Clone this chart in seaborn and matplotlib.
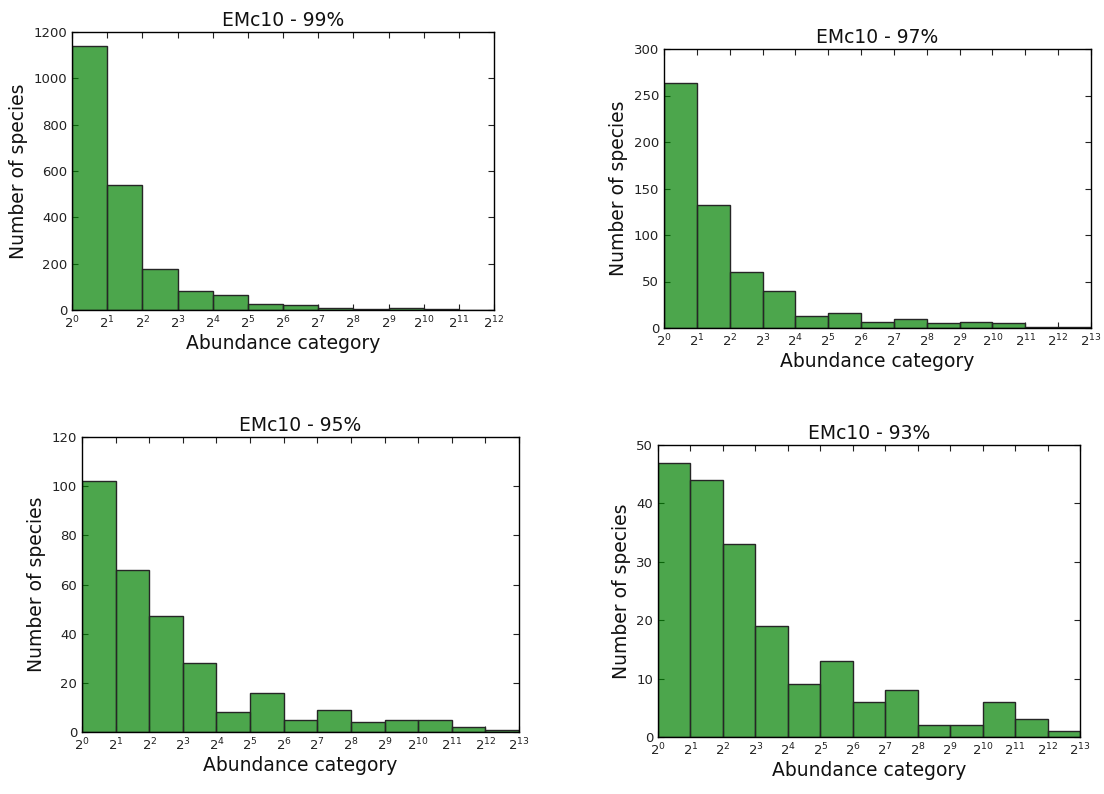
import numpy as np
import pandas as pd
import matplotlib
matplotlib.use("Agg")
import matplotlib.pyplot as plt
import seaborn as sns
from matplotlib.ticker import FixedLocator, LogFormatterMathtext, MultipleLocator

# counts per abundance bin, bin k covers [2^k, 2^(k+1))
titles = ["EMc10 - 99%", "EMc10 - 97%", "EMc10 - 95%", "EMc10 - 93%"]
counts_99 = [1140, 540, 178, 82, 65, 25, 20, 8, 4, 8, 3, 0]
counts_97 = [263, 132, 60, 40, 13, 16, 6, 10, 5, 6, 5, 1, 1]
counts_95 = [102, 66, 47, 28, 8, 16, 5, 9, 4, 5, 5, 2, 1]
counts_93 = [47, 44, 33, 19, 9, 13, 6, 8, 2, 2, 6, 3, 1]
all_counts = [counts_99, counts_97, counts_95, counts_93]
y_max = [1200, 300, 120, 50]
y_step = [200, 50, 20, 10]

sns.set_style("ticks")
plt.rcParams.update({
    "xtick.direction": "in", "ytick.direction": "in",
    "xtick.top": True, "ytick.right": True,
    "xtick.major.size": 4, "ytick.major.size": 4,
    "axes.linewidth": 1.0, "axes.edgecolor": "black",
    "xtick.color": "#222222", "ytick.color": "#222222",
    "text.color": "#111111", "axes.labelcolor": "#111111",
})
plt.rcParams["font.family"] = ["DejaVu Sans"]

W, H = 1104, 794
fig = plt.figure(figsize=(W / 100, H / 100), dpi=100)

# axes boxes in pixels: left, top, right, bottom
boxes = [(72, 32, 494, 310), (664, 49, 1091, 328),
         (82, 437, 519, 732), (658, 445, 1080, 737)]

for title, counts, ym, ys, (l, t, r, b) in zip(titles, all_counts, y_max, y_step, boxes):
    ax = fig.add_axes([l / W, 1 - b / H, (r - l) / W, (b - t) / H])
    n = len(counts)
    df = pd.DataFrame({"abund": 2.0 ** (np.arange(n) + 0.5), "n": counts})
    sns.histplot(data=df, x="abund", weights="n", log_scale=2,
                 binwidth=1, binrange=(0, n), color="green", alpha=0.7,
                 edgecolor="#262626", linewidth=1.0, ax=ax)
    ax.set_xlim(1, 2 ** n)
    ax.xaxis.set_major_locator(FixedLocator(2.0 ** np.arange(n + 1)))
    ax.xaxis.set_major_formatter(LogFormatterMathtext(base=2))
    ax.xaxis.set_minor_locator(FixedLocator([]))
    ax.set_ylim(0, ym)
    ax.yaxis.set_major_locator(MultipleLocator(ys))
    ax.tick_params(labelsize=9.5)
    ax.set_title(title, fontsize=13.5, pad=4)
    ax.set_xlabel("Abundance category", fontsize=13.5, labelpad=2)
    ax.set_ylabel("Number of species", fontsize=13.5)

fig.savefig("out.png", dpi=100)
